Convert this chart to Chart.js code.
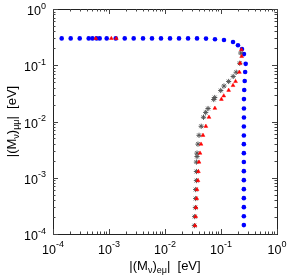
<!DOCTYPE html>
<html>
<head>
<meta charset="utf-8">
<script src="https://cdn.jsdelivr.net/npm/chart.js@4.4.0/dist/chart.umd.min.js"></script>
<style>
    html, body { margin: 0; padding: 0; background: #fff; }
</style>
</head>
<body>
<canvas id="chart" width="289" height="275"></canvas>
<script>
// Blue filled circles
const blueX = [1.43e-4, 2.07e-4, 3.0e-4, 4.34e-4, 5.06e-4, 6.0e-4, 6.82e-4, 9.1e-4, 1.32e-3, 1.91e-3,
    2.76e-3, 4.05e-3, 5.86e-3, 8.48e-3, 0.0123, 0.0178, 0.0258, 0.0373, 0.054, 0.0781,
    0.113, 0.164, 0.201, 0.237, 0.257, 0.276, 0.270, 0.265, 0.260, 0.257,
    0.257, 0.257, 0.256, 0.256, 0.256, 0.256, 0.256, 0.256, 0.256, 0.256,
    0.256, 0.256, 0.256, 0.256];
const blueY = [0.30, 0.30, 0.30, 0.30, 0.30, 0.30, 0.30, 0.30, 0.30, 0.30,
    0.30, 0.30, 0.30, 0.30, 0.30, 0.30, 0.30, 0.30, 0.298, 0.29,
    0.281, 0.259, 0.227, 0.194, 0.158, 0.106, 0.0757, 0.0524, 0.0362, 0.0250,
    0.0170, 0.0118, 0.00815, 0.00564, 0.00396, 0.00274, 0.0019, 0.00131, 9.06e-4, 6.27e-4,
    4.34e-4, 3.0e-4, 2.07e-4, 1.44e-4];

// Black asterisks
const blackX = [0.225, 0.216, 0.187, 0.165, 0.137, 0.113, 0.0989, 0.0772, 0.0742, 0.0587,
    0.0533, 0.0487, 0.0443, 0.0405, 0.0388, 0.0373, 0.0373, 0.0364, 0.0364, 0.0364,
    0.0353, 0.0353, 0.0349, 0.0339, 0.0335];
const blackY = [0.165, 0.1085, 0.0751, 0.0632, 0.0515, 0.0427, 0.0356, 0.0267, 0.0246, 0.0170,
    0.0145, 0.0119, 0.00822, 0.00568, 0.00396, 0.00274, 0.00238, 0.0019, 0.00129, 8.91e-4,
    6.17e-4, 4.27e-4, 2.95e-4, 2.04e-4, 1.41e-4];

// Red triangles
const redX = [5.79e-4, 1.10e-3, 1.35e-3, 0.231, 0.234, 0.220, 0.213, 0.182, 0.164, 0.137,
    0.112, 0.1016, 0.0778, 0.0610, 0.0537, 0.0477, 0.0440, 0.0422, 0.0405, 0.0395,
    0.0388, 0.0373, 0.0368, 0.0358, 0.0353, 0.0344];
const redY = [0.3, 0.3, 0.3, 0.189, 0.1434, 0.1085, 0.0751, 0.0515, 0.0437, 0.0359,
    0.0286, 0.0248, 0.0172, 0.0119, 0.00822, 0.00568, 0.00396, 0.00274, 0.0019, 0.00129,
    8.91e-4, 6.17e-4, 4.27e-4, 2.95e-4, 2.04e-4, 1.41e-4];

// Axis ticks (same for both axes)
const majorTicks = [1e-4, 1e-3, 1e-2, 1e-1, 1];
const majorExps = ['-4', '-3', '-2', '-1', '0'];
const minorMantissas = [2, 3, 4, 5, 6, 7, 8, 9];

const FONT = '"Liberation Sans", Arial, sans-serif';

const toPoints = (xs, ys) => xs.map((x, i) => ({ x: x, y: ys[i] }));

// draws a list of [text, kind] pieces, kind = 'n' | 'sub' | 'sup'
function drawRich(ctx, parts, x, y, align, size) {
    const fontFor = k => (k === 'n' ? size : Math.round(size * 0.72)) + 'px ' + FONT;
    const widths = parts.map(p => { ctx.font = fontFor(p[1]); return ctx.measureText(p[0]).width; });
    const total = widths.reduce((a, b) => a + b, 0);
    let cx = align === 'center' ? x - total / 2 : align === 'right' ? x - total : x;
    ctx.textAlign = 'left';
    ctx.textBaseline = 'alphabetic';
    parts.forEach((p, i) => {
        ctx.font = fontFor(p[1]);
        const dy = p[1] === 'sub' ? 3 : p[1] === 'sup' ? -6.5 : 0;
        ctx.fillText(p[0], cx, y + dy);
        cx += widths[i];
    });
}

const framePlugin = {
    id: 'frame',
    afterDraw(chart) {
        const { ctx, chartArea: a, scales } = chart;
        const xs = scales.x, ys = scales.y;
        ctx.save();
        ctx.strokeStyle = '#222';
        ctx.lineWidth = 1;
        ctx.strokeRect(Math.round(a.left) + 0.5, Math.round(a.top) + 0.5,
            Math.round(a.right - a.left), Math.round(a.bottom - a.top));

        const minor = [];
        majorTicks.slice(0, -1).forEach(d => minorMantissas.forEach(m => minor.push(m * d)));

        const tick = (v, len) => {
            const px = Math.round(xs.getPixelForValue(v)) + 0.5;
            const py = Math.round(ys.getPixelForValue(v)) + 0.5;
            ctx.beginPath();
            ctx.moveTo(px, a.bottom); ctx.lineTo(px, a.bottom - len);
            ctx.moveTo(px, a.top); ctx.lineTo(px, a.top + len);
            ctx.moveTo(a.left, py); ctx.lineTo(a.left + len, py);
            ctx.moveTo(a.right, py); ctx.lineTo(a.right - len, py);
            ctx.stroke();
        };
        ctx.strokeStyle = '#444';
        minor.forEach(v => tick(v, 2.5));
        majorTicks.forEach(v => tick(v, 5));

        ctx.fillStyle = '#000';
        majorTicks.forEach((v, i) => {
            const parts = [['10', 'n'], [majorExps[i], 'sup']];
            drawRich(ctx, parts, xs.getPixelForValue(v), 253.5, 'center', 12.5);
            drawRich(ctx, parts, 46, ys.getPixelForValue(v) + 6, 'right', 12.5);
        });

        // axis titles
        drawRich(ctx, [['|(M', 'n'], ['\u03bd', 'sub'], [')', 'n'], ['e\u03bc', 'sub'], ['|  [eV]', 'n']],
            (a.left + a.right) / 2, 270, 'center', 13);
        ctx.translate(15.5, (a.top + a.bottom) / 2);
        ctx.rotate(-Math.PI / 2);
        drawRich(ctx, [['|(M', 'n'], ['\u03bd', 'sub'], [')', 'n'], ['\u03bc\u03bc', 'sub'], ['|  [eV]', 'n']],
            0, 0, 'center', 13);
        ctx.restore();
    }
};

new Chart(document.getElementById('chart').getContext('2d'), {
    type: 'scatter',
    data: {
        datasets: [
            {
                label: 'red',
                data: toPoints(redX, redY),
                pointStyle: 'triangle',
                pointRadius: 2.2,
                backgroundColor: '#ff0000',
                borderColor: '#ff0000',
                borderWidth: 0.5,
                order: 1
            },
            {
                label: 'black',
                data: toPoints(blackX, blackY),
                pointStyle: 'star',
                pointRadius: 2.6,
                backgroundColor: '#555',
                borderColor: '#555',
                borderWidth: 1,
                order: 2
            },
            {
                label: 'blue',
                data: toPoints(blueX, blueY),
                pointStyle: 'circle',
                pointRadius: 2.3,
                backgroundColor: '#0000ff',
                borderColor: '#0000ff',
                borderWidth: 0,
                order: 3
            }
        ]
    },
    options: {
        responsive: false,
        animation: false,
        devicePixelRatio: 1,
        layout: { padding: { left: 53, right: 12, top: 9, bottom: 41 } },
        plugins: { legend: { display: false }, tooltip: { enabled: false } },
        scales: {
            x: { type: 'logarithmic', min: 1e-4, max: 1, display: false },
            y: { type: 'logarithmic', min: 1e-4, max: 1, display: false }
        }
    },
    plugins: [framePlugin]
});
</script>
</body>
</html>
